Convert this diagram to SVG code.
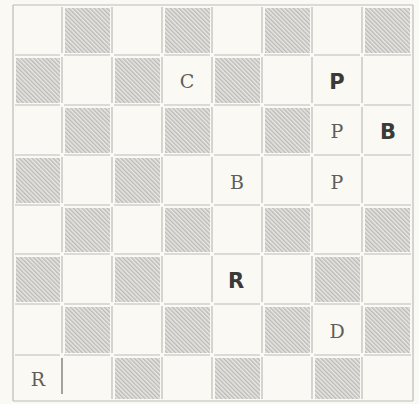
<svg xmlns="http://www.w3.org/2000/svg" width="419" height="404" viewBox="0 0 419 404">
<defs>
<pattern id="hatch" patternUnits="userSpaceOnUse" width="3" height="3" patternTransform="rotate(-45)">
<rect width="3" height="3" fill="#e9e7e3"/>
<line x1="0.75" y1="0" x2="0.75" y2="3" stroke="#b3b2ae" stroke-width="1.2"/>
</pattern>
</defs>
<style>
.dk{fill:url(#hatch)}
.gl{stroke:#bdbcb8;stroke-width:1.2;fill:none}
.pc{font-family:"DejaVu Serif","Liberation Serif",serif;font-size:19px;fill:#5e5e5c;text-anchor:middle}
.pb{font-family:"DejaVu Sans","Liberation Sans",sans-serif;font-weight:bold;font-size:21px;fill:#3a3a38;text-anchor:middle}
</style>
<rect width="419" height="404" fill="#fbf9f4"/>
<g id="board-squares">
<rect class="dk" x="65" y="8" width="45" height="45"/>
<rect class="dk" x="165" y="8" width="45" height="45"/>
<rect class="dk" x="265" y="8" width="45" height="45"/>
<rect class="dk" x="365" y="8" width="45" height="45"/>
<rect class="dk" x="16" y="58" width="44" height="45"/>
<rect class="dk" x="115" y="58" width="45" height="45"/>
<rect class="dk" x="215" y="58" width="45" height="45"/>
<rect class="dk" x="65" y="108" width="45" height="45"/>
<rect class="dk" x="165" y="108" width="45" height="45"/>
<rect class="dk" x="265" y="108" width="45" height="45"/>
<rect class="dk" x="16" y="158" width="44" height="45"/>
<rect class="dk" x="115" y="158" width="45" height="45"/>
<rect class="dk" x="65" y="208" width="45" height="44"/>
<rect class="dk" x="165" y="208" width="45" height="44"/>
<rect class="dk" x="265" y="208" width="45" height="44"/>
<rect class="dk" x="365" y="208" width="45" height="44"/>
<rect class="dk" x="16" y="257" width="44" height="45"/>
<rect class="dk" x="115" y="257" width="45" height="45"/>
<rect class="dk" x="315" y="257" width="45" height="45"/>
<rect class="dk" x="65" y="307" width="45" height="46"/>
<rect class="dk" x="165" y="307" width="45" height="46"/>
<rect class="dk" x="265" y="307" width="45" height="46"/>
<rect class="dk" x="365" y="307" width="45" height="46"/>
<rect class="dk" x="115" y="358" width="45" height="41"/>
<rect class="dk" x="215" y="358" width="45" height="41"/>
<rect class="dk" x="315" y="358" width="45" height="41"/>
</g>
<g id="grid-lines" class="gl">
<path d="M13 5V401M413 5V401M13 5H413M13 401H413"/>
<path d="M62 7V53M62 57V103M62 107V153M62 157V203M62 207V252M62 256V302M62 306V353"/>
<path d="M112 7V53M112 57V103M112 107V153M112 157V203M112 207V252M112 256V302M112 306V353M112 357V399"/>
<path d="M162 7V53M162 57V103M162 107V153M162 157V203M162 207V252M162 256V302M162 306V353M162 357V399"/>
<path d="M212 7V53M212 57V103M212 107V153M212 157V203M212 207V252M212 256V302M212 306V353M212 357V399"/>
<path d="M262 7V53M262 57V103M262 107V153M262 157V203M262 207V252M262 256V302M262 306V353M262 357V399"/>
<path d="M312 7V53M312 57V103M312 107V153M312 157V203M312 207V252M312 256V302M312 306V353M312 357V399"/>
<path d="M362 7V53M362 57V103M362 107V153M362 157V203M362 207V252M362 256V302M362 306V353M362 357V399"/>
<path d="M15 55H60M64 55H110M114 55H160M164 55H210M214 55H260M264 55H310M314 55H360M364 55H411"/>
<path d="M15 105H60M64 105H110M114 105H160M164 105H210M214 105H260M264 105H310M314 105H360M364 105H411"/>
<path d="M15 155H60M64 155H110M114 155H160M164 155H210M214 155H260M264 155H310M314 155H360M364 155H411"/>
<path d="M15 205H60M64 205H110M114 205H160M164 205H210M214 205H260M264 205H310M314 205H360M364 205H411"/>
<path d="M15 254H60M64 254H110M114 254H160M164 254H210M214 254H260M264 254H310M314 254H360M364 254H411"/>
<path d="M15 304H60M64 304H110M114 304H160M164 304H210M214 304H260M264 304H310M314 304H360M364 304H411"/>
<path d="M15 355H60M64 355H110M114 355H160M164 355H210M214 355H260M264 355H310M314 355H360M364 355H411"/>
<line x1="62" y1="358" x2="62" y2="394" stroke="#8e8d8a" stroke-width="1.6"/>
</g>
<g id="pieces">
<text class="pc" x="187" y="88">C</text>
<text class="pb" x="337" y="89">P</text>
<text class="pc" x="337" y="138">P</text>
<text class="pb" x="388" y="139">B</text>
<text class="pc" x="237" y="189">B</text>
<text class="pc" x="337" y="189">P</text>
<text class="pb" x="236" y="288">R</text>
<text class="pc" x="337" y="338">D</text>
<text class="pc" x="38" y="386">R</text>
</g>
</svg>
